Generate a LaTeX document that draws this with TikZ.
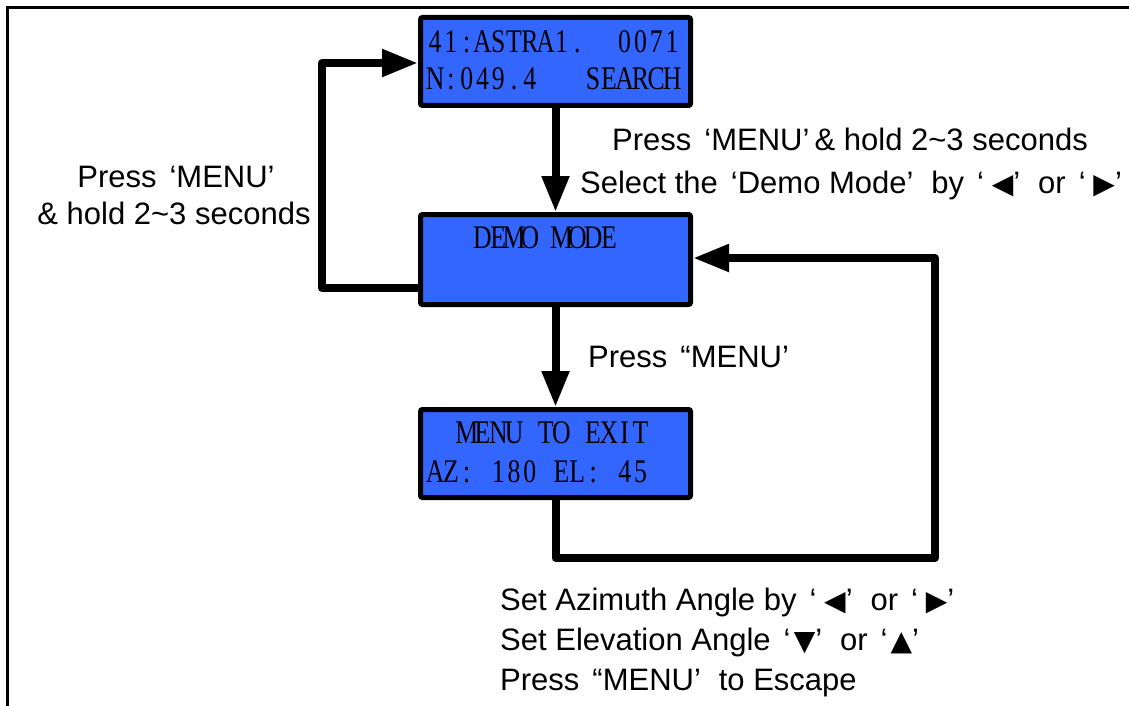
\documentclass[tikz,border=0pt]{standalone}
\usepackage{fontspec}
\setmainfont{Liberation Sans}
\newfontfamily\lcdfont[FakeStretch=0.78]{Liberation Serif}
\newfontfamily\symfont{DejaVu Sans}
\usetikzlibrary{arrows.meta}
\definecolor{lcdblue}{RGB}{51,102,255}
\def\lcdc#1{\ifx#1\relax\else\makebox[15.8pt][c]{#1}\expandafter\lcdc\fi}
\newcommand\tri[1]{{\symfont\fontsize{28pt}{28pt}\selectfont#1}}
\newcommand\oq{\hspace{0.42em}‘}
\newcommand\cq{’\hspace{0.3em}}
\newcommand\odq{\hspace{0.42em}“}
\begin{document}
\begin{tikzpicture}[x=1pt,y=-1pt,
  lcd/.style={draw=black, line width=5pt, fill=lcdblue, rounded corners=2pt,
    minimum width=270pt, inner sep=0pt},
  lcdtxt/.style={font=\lcdfont\fontsize{33pt}{33pt}\selectfont, inner sep=0pt, anchor=base west},
  lbl/.style={font=\fontsize{31pt}{36pt}\selectfont, inner sep=0pt, anchor=base},
  lblw/.style={font=\fontsize{31pt}{36pt}\selectfont, inner sep=0pt, anchor=base west},
  conn/.style={line width=8pt, line join=round, -{Triangle[length=36pt,width=26pt]}},
  frame/.style={line width=3pt}]
\useasboundingbox (0,0) rectangle (1129,706);
\draw[frame] (7,706) -- (7,8) -- (1129,8);
% boxes
\node[lcd, minimum height=88pt] (b1) at (555.5,61.5) {};
\node[lcd, minimum height=90pt] (b2) at (555.5,259.5) {};
\node[lcd, minimum height=88pt] (b3) at (555.5,453.5) {};
% box texts
\node[lcdtxt] (b1a) at (427,53) {\lcdc 41:ASTRA1.~~0071\relax};
\node[lcdtxt] (b1b) at (427,90) {\lcdc N:049.4~~~SEARCH\relax};
\node[lcdtxt] (b2a) at (474.4,248) {\lcdc DEMO~MODE\relax};
\node[lcdtxt] (b3a) at (458.6,443) {\lcdc MENU~TO~EXIT\relax};
\node[lcdtxt] (b3b) at (427,482) {\lcdc AZ:~180~EL:~45\relax};
% connector corners
\coordinate (lc) at (322,63);
\coordinate (rb) at (935,558);
\coordinate (rt) at (935,258);
% connectors
\draw[conn] (b1.south) -- (b2.north);
\draw[conn] (b2.south) -- (b3.north);
\draw[conn] ([yshift=-28.5pt]b2.west) -| (lc) -- (b1.west |- lc);
\draw[conn] (b3.south) |- (rb) -- (rt) -- (b2.east |- rt);
% labels
\node[lbl] (t1) at (850,150) {Press\oq MENU’\,\& hold 2\textasciitilde 3 seconds};
\node[lbl] (t2) at (851,193) {Select the\oq Demo Mode\cq{} by\oq\hspace{0.25em}\tri{◀}\cq{} or\oq\hspace{0.25em}\tri{▶}’};
\node[lbl] (l1) at (176,187) {Press\oq MENU’};
\node[lbl] (l2) at (174,224) {\& hold 2\textasciitilde 3 seconds};
\node[lblw] (m1) at (588,367) {Press\odq MENU’};
\node[lblw] (s1) at (500,610) {Set Azimuth Angle by\oq\hspace{0.25em}\tri{◀}\cq{} or\oq\hspace{0.25em}\tri{▶}’};
\node[lblw] (s2) at (500,650) {Set Elevation Angle\oq\hspace{0.1em}\tri{▼}\cq{} or\oq\hspace{0.1em}\tri{▲}’};
\node[lblw] (s3) at (500,690) {Press\odq MENU\cq{} to Escape};
\end{tikzpicture}
\end{document}
